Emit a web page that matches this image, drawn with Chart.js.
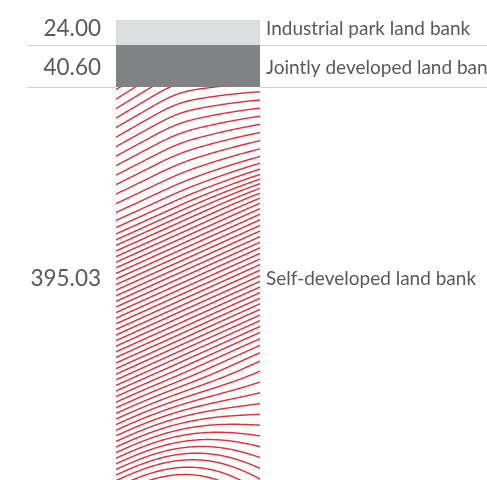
<!DOCTYPE html>
<html lang="en">
<head>
  <meta charset="UTF-8" />
  <title>Land bank</title>
  <script src="https://cdn.jsdelivr.net/npm/chart.js@4"></script>
  <style>
    html, body { margin: 0; padding: 0; background: #fff; }
    #wrap { width: 487px; height: 480px; }
  </style>
</head>
<body>
  <div id="wrap"><canvas id="landChart"></canvas></div>

  <script>
    // land bank composition (stacked top to bottom)
    const categories = ["Industrial park land bank", "Jointly developed land bank", "Self-developed land bank"];
    const areas = [24.00, 40.60, 395.03];
    const valueLabels = ["24.00", "40.60", "395.03"];
    const fills = ["#dcdddf", "#808285", "#ffffff"];
    // small vertical nudge of each label row from its segment centre
    const labelNudge = [-4.4, 1.1, -5.6];

    const textColor = "#58595b";
    const ruleColor = "#cfd0d2";
    const hatchColor = "#e52b35";

    function smooth(a, b, t) {
      const x = Math.max(0, Math.min(1, (t - a) / (b - a)));
      return x * x * (3 - 2 * x);
    }

    // slope of the wavy red lines, u across the bar, v down the bar
    function slope(u, v) {
      const tTop = Math.max(0, Math.min(1, (0.32 - v) / 0.32));
      const tBot = Math.max(0, (v - 0.72) / 0.28);
      let m = 0.45;
      m += tTop * 0.2 * (1 - u);
      m -= tTop * 0.4 * smooth(0.25, 0.6, u);
      m -= tBot * 1.0 * smooth(0, 1, u);
      return m;
    }

    const rulesPlugin = {
      id: "rules",
      beforeDatasetsDraw(chart) {
        const { ctx } = chart;
        ctx.save();
        ctx.strokeStyle = ruleColor;
        ctx.lineWidth = 1;
        for (let i = 0; i < areas.length - 1; i++) {
          const el = chart.getDatasetMeta(i).data[0];
          const y = Math.round(Math.max(el.y, el.base)) + 0.5;
          ctx.beginPath();
          ctx.moveTo(27, y);
          ctx.lineTo(chart.width, y);
          ctx.stroke();
        }
        ctx.restore();
      }
    };

    const hatchPlugin = {
      id: "hatch",
      afterDatasetsDraw(chart) {
        const { ctx, chartArea } = chart;
        const el = chart.getDatasetMeta(2).data[0];
        const left = el.x - el.width / 2;
        const right = el.x + el.width / 2;
        const top = Math.min(el.y, el.base);
        const bottom = Math.min(Math.max(el.y, el.base), chartArea.bottom);
        const w = right - left;
        const h = bottom - top;

        ctx.save();
        ctx.beginPath();
        ctx.rect(left, top, w, h);
        ctx.clip();
        ctx.strokeStyle = hatchColor;
        ctx.lineWidth = 1.4;

        let y0 = top + 3;
        while (y0 < bottom + 90) {
          let y = y0;
          ctx.beginPath();
          ctx.moveTo(left, y);
          for (let x = left + 1; x <= right + 1; x++) {
            y -= slope((x - left) / w, (y - top) / h);
            ctx.lineTo(x, y);
          }
          ctx.stroke();
          const v = (y0 - top) / h;
          let step = 9.5;
          if (v > 0.28) step = 9.5 - 3.9 * Math.min(1, (v - 0.28) / 0.1);
          if (v > 1) step = 6.5;
          y0 += step;
        }
        ctx.restore();
      }
    };

    const labelPlugin = {
      id: "sideLabels",
      afterDraw(chart) {
        const { ctx, chartArea } = chart;
        ctx.save();
        ctx.fillStyle = textColor;
        ctx.textBaseline = "alphabetic";
        areas.forEach((a, i) => {
          const el = chart.getDatasetMeta(i).data[0];
          const y1 = Math.max(Math.min(el.y, el.base), chartArea.top);
          const y2 = Math.min(Math.max(el.y, el.base), chartArea.bottom);
          const cy = (y1 + y2) / 2 + labelNudge[i];
          ctx.font = "22.5px Lato";
          ctx.textAlign = "right";
          ctx.fillText(valueLabels[i], 101, cy + 0.358 * 22.5);
          ctx.font = "19px Lato";
          ctx.textAlign = "left";
          ctx.fillText(categories[i], 266, cy + 0.358 * 19);
        });
        ctx.restore();
      }
    };

    new Chart(document.getElementById("landChart"), {
      type: "bar",
      data: {
        labels: [""],
        datasets: areas.map((a, i) => ({
          label: categories[i],
          data: [a],
          backgroundColor: fills[i],
          borderWidth: 0,
          barPercentage: 1,
          categoryPercentage: 1
        }))
      },
      options: {
        responsive: true,
        maintainAspectRatio: false,
        animation: false,
        layout: { padding: { top: 20, bottom: 0, left: 116, right: 227 } },
        plugins: { legend: { display: false }, tooltip: { enabled: false } },
        scales: {
          x: { stacked: true, display: false },
          y: { stacked: true, display: false, reverse: true, min: 0, max: 446 }
        }
      },
      plugins: [rulesPlugin, hatchPlugin, labelPlugin]
    });
  </script>
</body>
</html>
